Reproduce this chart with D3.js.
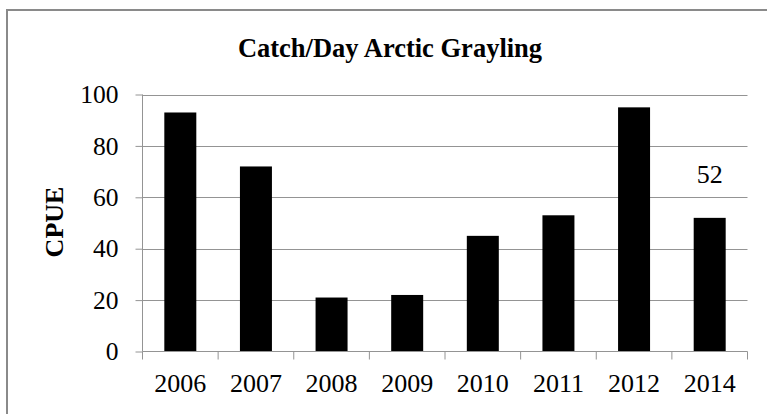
<!DOCTYPE html>
<html>
<head>
<meta charset="utf-8">
<script src="https://cdn.jsdelivr.net/npm/d3@7"></script>
<style>
  html, body { margin: 0; padding: 0; background: #fff; }
  svg { display: block; }
  svg text { font-family: "Liberation Serif", "Times New Roman", Times, serif; }
</style>
</head>
<body>
<svg id="chart" width="767" height="414"></svg>
<script>
const categories = ["2006", "2007", "2008", "2009", "2010", "2011", "2012", "2014"];
const cpue = [93, 72, 21, 22, 45, 53, 95, 52];
const yTicks = [0, 20, 40, 60, 80, 100];
const labeledYears = ["2014"];
const titleText = "Catch/Day Arctic Grayling";
const yAxisTitle = "CPUE";

const svg = d3.select("#chart");
const font = "Liberation Serif, Times New Roman, Times, serif";

svg.append("rect").attr("width", 767).attr("height", 414).attr("fill", "#fff");
// outer frame (extends past right/bottom edge)
svg.append("rect")
  .attr("x", 7).attr("y", 10).attr("width", 820).attr("height", 500)
  .attr("fill", "none").attr("stroke", "#8a8a8a").attr("stroke-width", 2);

const pLeft = 142.5, pRight = 747.5, pBottom = 351.5, pTop = 94.5;
const pad = 0.577;
const x = d3.scaleBand().domain(categories).range([pLeft, pRight])
  .paddingInner(pad).paddingOuter(pad / 2);
const y = d3.scaleLinear().domain([0, 100]).range([pBottom, pTop]);

// gridlines
svg.append("g").selectAll("line").data(yTicks.filter(d => d > 0)).join("line")
  .attr("x1", pLeft).attr("x2", pRight)
  .attr("y1", d => Math.round(y(d)) + 0.5).attr("y2", d => Math.round(y(d)) + 0.5)
  .attr("stroke", "#949494").attr("stroke-width", 1);

// bars
svg.append("g").selectAll("rect").data(categories).join("rect")
  .attr("x", d => x(d))
  .attr("width", x.bandwidth())
  .attr("y", (d, i) => y(cpue[i]))
  .attr("height", (d, i) => y(0) - y(cpue[i]))
  .attr("fill", "#000");

// y axis
const yAxis = svg.append("g").attr("transform", `translate(${pLeft},0)`)
  .call(d3.axisLeft(y).tickValues(yTicks).tickSize(7).tickPadding(17).tickFormat(d3.format("d")));
yAxis.attr("font-family", null).attr("font-size", null);
yAxis.select(".domain").attr("stroke", "#949494").attr("d", `M0,${pBottom}V${pTop}`);
yAxis.selectAll(".tick line").attr("stroke", "#949494");
yAxis.selectAll("text").style("font-family", font).style("font-size", "25.5px").attr("fill", "#000");

// x axis
const xAxis = svg.append("g").attr("transform", `translate(0,${pBottom})`)
  .call(d3.axisBottom(x).tickSize(0).tickPadding(0));
xAxis.attr("font-family", null).attr("font-size", null);
xAxis.select(".domain").attr("stroke", "#949494").attr("d", `M${pLeft},0H${pRight}`);
xAxis.selectAll("text").style("font-family", font).style("font-size", "26px").attr("fill", "#000")
  .attr("y", 40.5).attr("dy", 0);
// boundary ticks
const bounds = d3.range(categories.length + 1).map(i => x.range()[0] + i * x.step());
xAxis.append("g").selectAll("line").data(bounds).join("line")
  .attr("x1", d => d).attr("x2", d => d)
  .attr("y1", 0).attr("y2", 8).attr("stroke", "#949494");

// data label
svg.append("g").selectAll("text").data(labeledYears).join("text")
  .attr("x", d => x(d) + x.bandwidth() / 2)
  .attr("y", d => y(cpue[categories.indexOf(d)]) - 35)
  .attr("text-anchor", "middle")
  .style("font-family", font).style("font-size", "26px").attr("fill", "#000")
  .text(d => cpue[categories.indexOf(d)]);

// title
svg.append("text").attr("x", 390).attr("y", 57).attr("text-anchor", "middle")
  .style("font-family", font).style("font-weight", "bold").style("font-size", "26.5px")
  .attr("fill", "#000").text(titleText);

// y axis title
svg.append("text").attr("transform", "translate(63,222) rotate(-90)")
  .attr("text-anchor", "middle")
  .style("font-family", font).style("font-weight", "bold").style("font-size", "26px")
  .attr("fill", "#000").text(yAxisTitle);
</script>
</body>
</html>
